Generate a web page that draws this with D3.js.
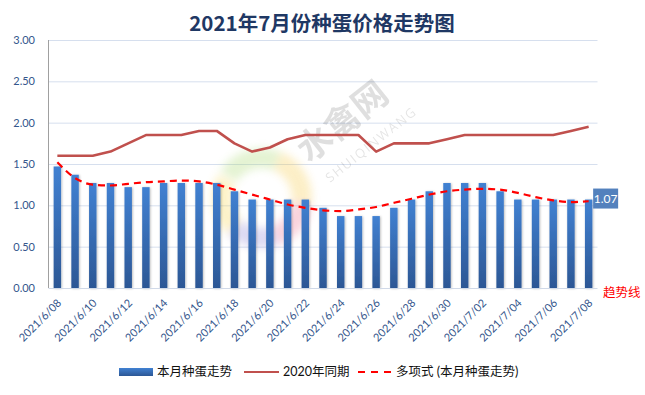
<!DOCTYPE html>
<html>
<head>
<meta charset="utf-8">
<script src="https://cdn.jsdelivr.net/npm/d3@7"></script>
<style>
  body { margin: 0; background: #fff; }
  svg { display: block; }
</style>
</head>
<body>
<div id="chart"></div>
<script>
// chart data
const dates = [
  "2021/6/08", "2021/6/09", "2021/6/10", "2021/6/11", "2021/6/12", "2021/6/13",
  "2021/6/14", "2021/6/15", "2021/6/16", "2021/6/17", "2021/6/18", "2021/6/19",
  "2021/6/20", "2021/6/21", "2021/6/22", "2021/6/23", "2021/6/24", "2021/6/25",
  "2021/6/26", "2021/6/27", "2021/6/28", "2021/6/29", "2021/6/30", "2021/7/01",
  "2021/7/02", "2021/7/03", "2021/7/04", "2021/7/05", "2021/7/06", "2021/7/07",
  "2021/7/08"
];
// 本月种蛋走势
const thisMonth = [
  1.47, 1.37, 1.27, 1.27, 1.22, 1.22, 1.27, 1.27, 1.27, 1.27, 1.17, 1.07,
  1.07, 1.07, 1.07, 0.97, 0.87, 0.87, 0.87, 0.97, 1.07, 1.17, 1.27, 1.27,
  1.27, 1.17, 1.07, 1.07, 1.07, 1.07, 1.07
];
// 2020年同期
const lastYear = [
  1.60, 1.60, 1.60, 1.65, 1.75, 1.85, 1.85, 1.85, 1.90, 1.90, 1.75, 1.65,
  1.70, 1.80, 1.85, 1.85, 1.85, 1.85, 1.65, 1.75, 1.75, 1.75, 1.80, 1.85,
  1.85, 1.85, 1.85, 1.85, 1.85, 1.90, 1.95
];
// 多项式 (本月种蛋走势) trendline, read at each day
const trend = [
  1.52, 1.33, 1.25, 1.24, 1.26, 1.28, 1.29, 1.30, 1.29, 1.25, 1.19, 1.13,
  1.07, 1.01, 0.97, 0.94, 0.93, 0.95, 0.98, 1.03, 1.08, 1.13, 1.17, 1.19,
  1.20, 1.19, 1.15, 1.10, 1.06, 1.04, 1.05
];
const yTicks = [0, 0.5, 1, 1.5, 2, 2.5, 3];
const seriesNames = ["本月种蛋走势", "2020年同期", "多项式 (本月种蛋走势)"];
const titleText = "2021年7月份种蛋价格走势图";

// dimensions
const W = 645, H = 395;
const PLOT = Object.freeze({ left: 48.5, right: 597.5, top: 40, bottom: 288 });
const LATIN = "Lato, 'Noto Sans CJK SC', sans-serif";
const CJK = "'Noto Sans CJK SC', sans-serif";

const svg = d3.select("#chart").append("svg")
  .attr("width", W).attr("height", H);

const defs = svg.append("defs");
const grad = defs.append("linearGradient")
  .attr("id", "barGrad").attr("x1", 0).attr("y1", 0).attr("x2", 0).attr("y2", 1);
grad.append("stop").attr("offset", "0%").attr("stop-color", "#4181d2");
grad.append("stop").attr("offset", "100%").attr("stop-color", "#2c5795");

const shadow = defs.append("filter").attr("id", "barShadow")
  .attr("x", "-50%").attr("y", "-5%").attr("width", "200%").attr("height", "110%");
shadow.append("feDropShadow").attr("dx", 0.8).attr("dy", 0.5)
  .attr("stdDeviation", 0.9).attr("flood-color", "#000").attr("flood-opacity", 0.28);

const blur = defs.append("filter").attr("id", "wmBlur")
  .attr("x", "-30%").attr("y", "-30%").attr("width", "160%").attr("height", "160%");
blur.append("feGaussianBlur").attr("stdDeviation", 4);

// scales
const x = d3.scaleBand().domain(dates).range([PLOT.left, PLOT.right]).paddingInner(0);
const y = d3.scaleLinear().domain([0, 3]).range([PLOT.bottom, PLOT.top]);
const cx = (d) => x(d) + x.bandwidth() / 2;
const barW = x.bandwidth() * 0.42;

// title
svg.append("text")
  .attr("x", 322).attr("y", 31)
  .attr("text-anchor", "middle")
  .style("font-family", CJK)
  .style("font-size", "20.5px")
  .style("font-weight", "700")
  .attr("fill", "#1f3864")
  .text(titleText);

// gridlines
svg.append("g").selectAll("line")
  .data(yTicks.filter((t) => t > 0))
  .enter().append("line")
  .attr("x1", PLOT.left).attr("x2", PLOT.right)
  .attr("y1", (d) => y(d) + 0.5).attr("y2", (d) => y(d) + 0.5)
  .attr("stroke", "#d6dfee").attr("stroke-width", 1);

// y tick labels
svg.append("g").selectAll("text")
  .data(yTicks)
  .enter().append("text")
  .attr("x", 35).attr("y", (d) => y(d))
  .attr("dy", "0.35em")
  .attr("text-anchor", "end")
  .style("font-family", LATIN)
  .style("font-size", "11px")
  .attr("fill", "#34568c")
  .text((d) => d3.format(".2f")(d));

// watermark: faint blurred coloured logo + grey text
const wm = svg.append("g").attr("opacity", 0.3).attr("filter", "url(#wmBlur)");
const ring = d3.arc().innerRadius(30).outerRadius(50);
[
  { a0: -1.0, a1: 0.4, c: "#a8d86e" },
  { a0: 0.4, a1: 1.7, c: "#f6c945" },
  { a0: 1.7, a1: 2.8, c: "#ec6f8e" },
  { a0: 2.8, a1: 3.9, c: "#8f86d8" },
  { a0: 3.9, a1: 5.2, c: "#f8d54e" }
].forEach((s) => {
  wm.append("path")
    .attr("d", ring({ startAngle: s.a0, endAngle: s.a1 }))
    .attr("transform", "translate(262,198)")
    .attr("fill", s.c);
});
svg.append("text")
  .attr("transform", "translate(350,131) rotate(-38.5)")
  .attr("text-anchor", "middle")
  .style("font-family", CJK)
  .style("font-size", "35px")
  .style("font-weight", "700")
  .attr("fill", "#000").attr("opacity", 0.12)
  .text("水禽网");
svg.append("text")
  .attr("transform", "translate(374,148) rotate(-38.5)")
  .attr("text-anchor", "middle")
  .style("font-family", "'Open Sans', sans-serif")
  .style("font-size", "13px")
  .style("letter-spacing", "1.8px")
  .attr("fill", "#000").attr("opacity", 0.1)
  .text("SHUIQINWANG");

// bars
svg.append("g").selectAll("rect")
  .data(dates)
  .enter().append("rect")
  .attr("x", (d) => cx(d) - barW / 2)
  .attr("width", barW)
  .attr("y", (d, i) => y(thisMonth[i]))
  .attr("height", (d, i) => PLOT.bottom - y(thisMonth[i]))
  .attr("fill", "url(#barGrad)")
  .attr("filter", "url(#barShadow)");

// axes lines
svg.append("line")
  .attr("x1", PLOT.left).attr("x2", PLOT.left)
  .attr("y1", PLOT.top).attr("y2", PLOT.bottom)
  .attr("stroke", "#a0a0a0").attr("stroke-width", 1);
svg.append("line")
  .attr("x1", PLOT.left).attr("x2", PLOT.right)
  .attr("y1", PLOT.bottom + 0.5).attr("y2", PLOT.bottom + 0.5)
  .attr("stroke", "#d0d9e8").attr("stroke-width", 1);

// 2020 line
const line = d3.line()
  .x((d, i) => cx(dates[i]))
  .y((d) => y(d));
svg.append("path")
  .datum(lastYear)
  .attr("d", line)
  .attr("fill", "none")
  .attr("stroke", "#c0504d")
  .attr("stroke-width", 2.6)
  .attr("stroke-linejoin", "round");

// trendline (dashed, smooth)
svg.append("path")
  .datum(trend)
  .attr("d", line.curve(d3.curveMonotoneX))
  .attr("fill", "none")
  .attr("stroke", "#ff0000")
  .attr("stroke-width", 2.2)
  .attr("stroke-dasharray", "7,5");

// last value label
const lastIdx = thisMonth.length - 1;
const lab = svg.append("g")
  .attr("transform", `translate(${cx(dates[lastIdx]) + 4.5},${y(thisMonth[lastIdx]) - 11})`);
lab.append("rect")
  .attr("width", 25).attr("height", 20)
  .attr("fill", "#5381bd");
lab.append("text")
  .attr("x", 12.5).attr("y", 10).attr("dy", "0.36em")
  .attr("text-anchor", "middle")
  .style("font-family", LATIN)
  .style("font-size", "12px")
  .attr("fill", "#fff")
  .text(d3.format(".2f")(thisMonth[lastIdx]));

// "趋势线" annotation
svg.append("text")
  .attr("x", 603).attr("y", 297)
  .style("font-family", CJK)
  .style("font-size", "12.5px")
  .attr("fill", "#ff0000")
  .text("趋势线");

// x tick labels, every second day
svg.append("g").selectAll("text")
  .data(dates.filter((d, i) => i % 2 === 0))
  .enter().append("text")
  .attr("transform", (d) => `translate(${cx(d) + 2},${301}) rotate(-45)`)
  .attr("text-anchor", "end")
  .attr("dy", "0.35em")
  .style("font-family", LATIN)
  .style("font-size", "11px")
  .attr("fill", "#34568c")
  .text((d) => d);

// legend
const lg = svg.append("g").attr("transform", "translate(0,372)");
lg.append("rect").attr("x", 119).attr("y", -4).attr("width", 34).attr("height", 8)
  .attr("fill", "url(#barGrad)");
lg.append("text").attr("x", 157).attr("dy", "0.35em").text(seriesNames[0]);
lg.append("line").attr("x1", 244).attr("x2", 279)
  .attr("stroke", "#c0504d").attr("stroke-width", 2.2);
lg.append("text").attr("x", 283).attr("dy", "0.35em").text(seriesNames[1]);
lg.append("line").attr("x1", 358).attr("x2", 392)
  .attr("stroke", "#ff0000").attr("stroke-width", 2.2)
  .attr("stroke-dasharray", "7,6");
lg.append("text").attr("x", 396).attr("dy", "0.35em").text(seriesNames[2]);
lg.selectAll("text")
  .style("font-family", LATIN)
  .style("font-size", "12.5px")
  .attr("fill", "#111");
</script>
</body>
</html>
